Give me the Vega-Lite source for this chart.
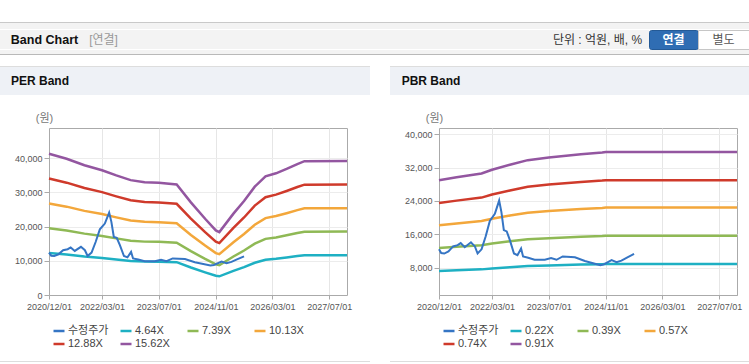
{
"$schema": "https://vega.github.io/schema/vega-lite/v6.json",
"padding": 0,
"background": "#ffffff",
"config": {"view": {"stroke": null}, "font": "Liberation Sans, Noto Sans CJK KR"},
"datasets": {
"price": [
{"d":"2020-12-01","s":"수정주가","v":12400},
{"d":"2020-12-20","s":"수정주가","v":11500},
{"d":"2021-01-15","s":"수정주가","v":11400},
{"d":"2021-02-20","s":"수정주가","v":11900},
{"d":"2021-04-01","s":"수정주가","v":13100},
{"d":"2021-05-10","s":"수정주가","v":13400},
{"d":"2021-06-05","s":"수정주가","v":13900},
{"d":"2021-07-10","s":"수정주가","v":12900},
{"d":"2021-09-01","s":"수정주가","v":14100},
{"d":"2021-10-05","s":"수정주가","v":13100},
{"d":"2021-10-28","s":"수정주가","v":11400},
{"d":"2021-12-01","s":"수정주가","v":12400},
{"d":"2022-01-05","s":"수정주가","v":15500},
{"d":"2022-02-10","s":"수정주가","v":19200},
{"d":"2022-03-25","s":"수정주가","v":20900},
{"d":"2022-05-01","s":"수정주가","v":24100},
{"d":"2022-05-20","s":"수정주가","v":21400},
{"d":"2022-06-10","s":"수정주가","v":17000},
{"d":"2022-07-05","s":"수정주가","v":16700},
{"d":"2022-08-01","s":"수정주가","v":14600},
{"d":"2022-09-05","s":"수정주가","v":11400},
{"d":"2022-10-05","s":"수정주가","v":11000},
{"d":"2022-11-05","s":"수정주가","v":12600},
{"d":"2022-11-22","s":"수정주가","v":10700},
{"d":"2023-01-05","s":"수정주가","v":10400},
{"d":"2023-03-01","s":"수정주가","v":9900},
{"d":"2023-05-28","s":"수정주가","v":9900},
{"d":"2023-07-20","s":"수정주가","v":10300},
{"d":"2023-09-05","s":"수정주가","v":9900},
{"d":"2023-10-28","s":"수정주가","v":10700},
{"d":"2024-02-10","s":"수정주가","v":10500},
{"d":"2024-05-05","s":"수정주가","v":9600},
{"d":"2024-09-15","s":"수정주가","v":8600},
{"d":"2024-10-15","s":"수정주가","v":8800},
{"d":"2024-12-20","s":"수정주가","v":9800},
{"d":"2025-02-01","s":"수정주가","v":9300},
{"d":"2025-03-15","s":"수정주가","v":9700},
{"d":"2025-05-01","s":"수정주가","v":10400},
{"d":"2025-07-01","s":"수정주가","v":11300}
],
"per": [
{"d":"2020-12-01","s":"4.64X","v":12270},{"d":"2020-12-01","s":"7.39X","v":19540},{"d":"2020-12-01","s":"10.13X","v":26780},{"d":"2020-12-01","s":"12.88X","v":34055},{"d":"2020-12-01","s":"15.62X","v":41300},
{"d":"2021-05-01","s":"4.64X","v":11838},{"d":"2021-05-01","s":"7.39X","v":18853},{"d":"2021-05-01","s":"10.13X","v":25844},{"d":"2021-05-01","s":"12.88X","v":32860},{"d":"2021-05-01","s":"15.62X","v":39850},
{"d":"2021-10-01","s":"4.64X","v":11273},{"d":"2021-10-01","s":"7.39X","v":17954},{"d":"2021-10-01","s":"10.13X","v":24612},{"d":"2021-10-01","s":"12.88X","v":31293},{"d":"2021-10-01","s":"15.62X","v":37950},
{"d":"2022-03-01","s":"4.64X","v":10843},{"d":"2022-03-01","s":"7.39X","v":17269},{"d":"2022-03-01","s":"10.13X","v":23671},{"d":"2022-03-01","s":"12.88X","v":30097},{"d":"2022-03-01","s":"15.62X","v":36500},
{"d":"2022-07-01","s":"4.64X","v":10397},{"d":"2022-07-01","s":"7.39X","v":16559},{"d":"2022-07-01","s":"10.13X","v":22699},{"d":"2022-07-01","s":"12.88X","v":28860},{"d":"2022-07-01","s":"15.62X","v":35000},
{"d":"2022-11-01","s":"4.64X","v":9981},{"d":"2022-11-01","s":"7.39X","v":15896},{"d":"2022-11-01","s":"10.13X","v":21791},{"d":"2022-11-01","s":"12.88X","v":27706},{"d":"2022-11-01","s":"15.62X","v":33600},
{"d":"2023-03-01","s":"4.64X","v":9803},{"d":"2023-03-01","s":"7.39X","v":15613},{"d":"2023-03-01","s":"10.13X","v":21401},{"d":"2023-03-01","s":"12.88X","v":27211},{"d":"2023-03-01","s":"15.62X","v":33000},
{"d":"2023-07-01","s":"4.64X","v":9758},{"d":"2023-07-01","s":"7.39X","v":15542},{"d":"2023-07-01","s":"10.13X","v":21304},{"d":"2023-07-01","s":"12.88X","v":27087},{"d":"2023-07-01","s":"15.62X","v":32850},
{"d":"2023-12-01","s":"4.64X","v":9610},{"d":"2023-12-01","s":"7.39X","v":15305},{"d":"2023-12-01","s":"10.13X","v":20980},{"d":"2023-12-01","s":"12.88X","v":26675},{"d":"2023-12-01","s":"15.62X","v":32350},
{"d":"2024-04-01","s":"4.64X","v":8050},{"d":"2024-04-01","s":"7.39X","v":12821},{"d":"2024-04-01","s":"10.13X","v":17575},{"d":"2024-04-01","s":"12.88X","v":22346},{"d":"2024-04-01","s":"15.62X","v":27100},
{"d":"2024-08-01","s":"4.64X","v":6624},{"d":"2024-08-01","s":"7.39X","v":10550},{"d":"2024-08-01","s":"10.13X","v":14462},{"d":"2024-08-01","s":"12.88X","v":18388},{"d":"2024-08-01","s":"15.62X","v":22300},
{"d":"2024-11-01","s":"4.64X","v":5614},{"d":"2024-11-01","s":"7.39X","v":8942},{"d":"2024-11-01","s":"10.13X","v":12257},{"d":"2024-11-01","s":"12.88X","v":15585},{"d":"2024-11-01","s":"15.62X","v":18900},
{"d":"2024-12-01","s":"4.64X","v":5466},{"d":"2024-12-01","s":"7.39X","v":8705},{"d":"2024-12-01","s":"10.13X","v":11933},{"d":"2024-12-01","s":"12.88X","v":15172},{"d":"2024-12-01","s":"15.62X","v":18400},
{"d":"2025-04-01","s":"4.64X","v":7070},{"d":"2025-04-01","s":"7.39X","v":11260},{"d":"2025-04-01","s":"10.13X","v":15435},{"d":"2025-04-01","s":"12.88X","v":19625},{"d":"2025-04-01","s":"15.62X","v":23800},
{"d":"2025-07-01","s":"4.64X","v":8169},{"d":"2025-07-01","s":"7.39X","v":13011},{"d":"2025-07-01","s":"10.13X","v":17835},{"d":"2025-07-01","s":"12.88X","v":22676},{"d":"2025-07-01","s":"15.62X","v":27500},
{"d":"2025-10-01","s":"4.64X","v":9417},{"d":"2025-10-01","s":"7.39X","v":14998},{"d":"2025-10-01","s":"10.13X","v":20558},{"d":"2025-10-01","s":"12.88X","v":26139},{"d":"2025-10-01","s":"15.62X","v":31700},
{"d":"2026-01-01","s":"4.64X","v":10308},{"d":"2026-01-01","s":"7.39X","v":16417},{"d":"2026-01-01","s":"10.13X","v":22504},{"d":"2026-01-01","s":"12.88X","v":28613},{"d":"2026-01-01","s":"15.62X","v":34700},
{"d":"2026-04-01","s":"4.64X","v":10575},{"d":"2026-04-01","s":"7.39X","v":16843},{"d":"2026-04-01","s":"10.13X","v":23088},{"d":"2026-04-01","s":"12.88X","v":29355},{"d":"2026-04-01","s":"15.62X","v":35600},
{"d":"2026-07-01","s":"4.64X","v":10962},{"d":"2026-07-01","s":"7.39X","v":17458},{"d":"2026-07-01","s":"10.13X","v":23931},{"d":"2026-07-01","s":"12.88X","v":30427},{"d":"2026-07-01","s":"15.62X","v":36900},
{"d":"2026-10-01","s":"4.64X","v":11377},{"d":"2026-10-01","s":"7.39X","v":18120},{"d":"2026-10-01","s":"10.13X","v":24839},{"d":"2026-10-01","s":"12.88X","v":31581},{"d":"2026-10-01","s":"15.62X","v":38300},
{"d":"2026-12-01","s":"4.64X","v":11630},{"d":"2026-12-01","s":"7.39X","v":18522},{"d":"2026-12-01","s":"10.13X","v":25390},{"d":"2026-12-01","s":"12.88X","v":32282},{"d":"2026-12-01","s":"15.62X","v":39150},
{"d":"2027-12-01","s":"4.64X","v":11636},{"d":"2027-12-01","s":"7.39X","v":18600},{"d":"2027-12-01","s":"10.13X","v":25403},{"d":"2027-12-01","s":"12.88X","v":32299},{"d":"2027-12-01","s":"15.62X","v":39170}
],
"pbr": [
{"d":"2020-12-01","s":"0.22X","v":7201},{"d":"2020-12-01","s":"0.39X","v":12702},{"d":"2020-12-01","s":"0.57X","v":18183},{"d":"2020-12-01","s":"0.74X","v":23519},{"d":"2020-12-01","s":"0.91X","v":29000},
{"d":"2021-05-01","s":"0.22X","v":7375},{"d":"2021-05-01","s":"0.39X","v":13009},{"d":"2021-05-01","s":"0.57X","v":18622},{"d":"2021-05-01","s":"0.74X","v":24087},{"d":"2021-05-01","s":"0.91X","v":29700},
{"d":"2021-12-01","s":"0.22X","v":7598},{"d":"2021-12-01","s":"0.39X","v":13403},{"d":"2021-12-01","s":"0.57X","v":19186},{"d":"2021-12-01","s":"0.74X","v":24817},{"d":"2021-12-01","s":"0.91X","v":30600},
{"d":"2022-03-01","s":"0.22X","v":7821},{"d":"2022-03-01","s":"0.39X","v":13797},{"d":"2022-03-01","s":"0.57X","v":19751},{"d":"2022-03-01","s":"0.74X","v":25547},{"d":"2022-03-01","s":"0.91X","v":31500},
{"d":"2022-08-01","s":"0.22X","v":8119},{"d":"2022-08-01","s":"0.39X","v":14323},{"d":"2022-08-01","s":"0.57X","v":20503},{"d":"2022-08-01","s":"0.74X","v":26520},{"d":"2022-08-01","s":"0.91X","v":32700},
{"d":"2023-01-01","s":"0.22X","v":8393},{"d":"2023-01-01","s":"0.39X","v":14804},{"d":"2023-01-01","s":"0.57X","v":21193},{"d":"2023-01-01","s":"0.74X","v":27412},{"d":"2023-01-01","s":"0.91X","v":33800},
{"d":"2023-07-01","s":"0.22X","v":8552},{"d":"2023-07-01","s":"0.39X","v":15085},{"d":"2023-07-01","s":"0.57X","v":21594},{"d":"2023-07-01","s":"0.74X","v":27931},{"d":"2023-07-01","s":"0.91X","v":34440},
{"d":"2024-04-01","s":"0.22X","v":8748},{"d":"2024-04-01","s":"0.39X","v":15431},{"d":"2024-04-01","s":"0.57X","v":22089},{"d":"2024-04-01","s":"0.74X","v":28572},{"d":"2024-04-01","s":"0.91X","v":35230},
{"d":"2024-10-01","s":"0.22X","v":8847},{"d":"2024-10-01","s":"0.39X","v":15606},{"d":"2024-10-01","s":"0.57X","v":22340},{"d":"2024-10-01","s":"0.74X","v":28896},{"d":"2024-10-01","s":"0.91X","v":35630},
{"d":"2024-11-01","s":"0.22X","v":8879},{"d":"2024-11-01","s":"0.39X","v":15663},{"d":"2024-11-01","s":"0.57X","v":22422},{"d":"2024-11-01","s":"0.74X","v":29001},{"d":"2024-11-01","s":"0.91X","v":35760},
{"d":"2027-12-01","s":"0.22X","v":8879},{"d":"2027-12-01","s":"0.39X","v":15663},{"d":"2027-12-01","s":"0.57X","v":22422},{"d":"2027-12-01","s":"0.74X","v":29001},{"d":"2027-12-01","s":"0.91X","v":35760}
]
},
"spacing": 0,
"vconcat": [
{"width":749,"height":22,"data":{"values":[]},"mark":"point"},
{"width":749,"height":1,"data":{"values":[]},"mark":"point","view":{"fill":"#c9c9c9","stroke":null}},
{"width":749,"height":6,"data":{"values":[]},"mark":"point","view":{"fill":"#f3f3f3","stroke":null}},
{"hconcat":[
 {"width":89,"height":19,"data":{"values":[{"t":"Band Chart"}]},"mark":{"type":"text","fontSize":12.5,"fontWeight":"bold","color":"#111111"},"encoding":{"text":{"field":"t"}},"view":{"fill":"#f3f3f3","stroke":null}},
 {"width":29,"height":19,"data":{"values":[{"t":"[연결]"}]},"mark":{"type":"text","fontSize":12,"color":"#999999"},"encoding":{"text":{"field":"t"}},"view":{"fill":"#f3f3f3","stroke":null}},
 {"width":428,"height":19,"data":{"values":[]},"mark":"point","view":{"fill":"#f3f3f3","stroke":null}},
 {"width":103,"height":19,"data":{"values":[{"t":"단위 : 억원, 배, %"}]},"mark":{"type":"text","fontSize":12,"color":"#333333"},"encoding":{"text":{"field":"t"}},"view":{"fill":"#f3f3f3","stroke":null}},
 {"width":49,"height":19,"data":{"values":[{"t":"연결"}]},"mark":{"type":"text","fontSize":12,"fontWeight":"bold","color":"#ffffff"},"encoding":{"text":{"field":"t"}},"view":{"fill":"#2f6db3","stroke":"#245a96","cornerRadius":2}},
 {"width":51,"height":19,"data":{"values":[{"t":"별도"}]},"mark":{"type":"text","fontSize":12,"color":"#555555"},"encoding":{"text":{"field":"t"}},"view":{"fill":"#ffffff","stroke":"#c6c6c6"}}
],"spacing":0,"bounds":"flush"},
{"width":749,"height":4,"data":{"values":[]},"mark":"point","view":{"fill":"#f3f3f3","stroke":null}},
{"width":749,"height":1,"data":{"values":[]},"mark":"point","view":{"fill":"#b9b9b9","stroke":null}},
{"width":749,"height":11,"data":{"values":[]},"mark":"point"},
{"hconcat":[
 {"width":370,"height":1,"data":{"values":[]},"mark":"point","view":{"fill":"#dddddd","stroke":null}},
 {"width":20,"height":1,"data":{"values":[]},"mark":"point"},
 {"width":359,"height":1,"data":{"values":[]},"mark":"point","view":{"fill":"#dddddd","stroke":null}}
],"spacing":0,"bounds":"flush"},
{"hconcat":[
 {"width":80,"height":28,"data":{"values":[{"t":"PER Band"}]},"mark":{"type":"text","fontSize":12,"fontWeight":"bold","color":"#111111"},"encoding":{"text":{"field":"t"}},"view":{"fill":"#eef1f6","stroke":null}},
 {"width":290,"height":28,"data":{"values":[]},"mark":"point","view":{"fill":"#eef1f6","stroke":null}},
 {"width":20,"height":28,"data":{"values":[]},"mark":"point"},
 {"width":82,"height":28,"data":{"values":[{"t":"PBR Band"}]},"mark":{"type":"text","fontSize":12,"fontWeight":"bold","color":"#111111"},"encoding":{"text":{"field":"t"}},"view":{"fill":"#eef1f6","stroke":null}},
 {"width":277,"height":28,"data":{"values":[]},"mark":"point","view":{"fill":"#eef1f6","stroke":null}}
],"spacing":0,"bounds":"flush"},
{"width":749,"height":16,"data":{"values":[]},"mark":"point"},
{"hconcat":[
 {"width":49,"height":167,"data":{"values":[]},"mark":"point"},
 {"width":298,"height":167,
  "view":{"stroke":"#aaaaaa"},
  "encoding":{
    "x":{"field":"d","type":"temporal","scale":{"type":"utc","domain":[{"year":2020,"month":12,"date":1,"utc":true},{"year":2027,"month":12,"date":1,"utc":true}]},
         "axis":{"title":null,"values":[{"year":2020,"month":12,"date":1,"utc":true},{"year":2022,"month":3,"date":1,"utc":true},{"year":2023,"month":7,"date":1,"utc":true},{"year":2024,"month":11,"date":1,"utc":true},{"year":2026,"month":3,"date":1,"utc":true},{"year":2027,"month":7,"date":1,"utc":true}],
                 "format":"%Y/%m/%d","grid":true,"gridColor":"#e6e6e6","domainColor":"#aaaaaa","tickColor":"#aaaaaa","tickSize":4,"labelFontSize":9,"labelColor":"#555555","labelPadding":3,"labelFlush":false,"labelOverlap":false}},
    "y":{"field":"v","type":"quantitative","scale":{"domain":[0,48850],"nice":false,"zero":false},
         "axis":{"values":[0,10000,20000,30000,40000],"format":",.0f","title":"(원)","titleAngle":0,"titleX":-5,"titleY":-10,"titleAlign":"center","titleBaseline":"middle","titleFontWeight":"normal","titleFontSize":11,"titleColor":"#777777","grid":true,"gridColor":"#ececec","domainColor":"#aaaaaa","tickColor":"#aaaaaa","tickSize":5,"labelPadding":2,"labelFontSize":9,"labelColor":"#555555"}},
    "color":{"field":"s","type":"nominal",
             "scale":{"domain":["수정주가","4.64X","7.39X","10.13X","12.88X","15.62X"],"range":["#3575c4","#1eb0c3","#8fb955","#f3a73b","#cf3a2b","#9356a0"]},
             "legend":{"title":null,"orient":"none","direction":"horizontal","legendX":3,"legendY":196,"columns":4,"symbolType":"stroke","symbolSize":121,"symbolStrokeWidth":2.5,"labelFontSize":11,"labelColor":"#444444","gridAlign":"all","columnPadding":6,"rowPadding":1,"labelOffset":2}}
  },
  "layer":[
    {"data":{"name":"per"},"mark":{"type":"line","strokeWidth":2.5}},
    {"data":{"name":"price"},"mark":{"type":"line","strokeWidth":2}}
  ]},
 {"width":92,"height":167,"data":{"values":[]},"mark":"point"},
 {"width":298,"height":167,
  "view":{"stroke":"#aaaaaa"},
  "encoding":{
    "x":{"field":"d","type":"temporal","scale":{"type":"utc","domain":[{"year":2020,"month":12,"date":1,"utc":true},{"year":2027,"month":12,"date":1,"utc":true}]},
         "axis":{"title":null,"values":[{"year":2020,"month":12,"date":1,"utc":true},{"year":2022,"month":3,"date":1,"utc":true},{"year":2023,"month":7,"date":1,"utc":true},{"year":2024,"month":11,"date":1,"utc":true},{"year":2026,"month":3,"date":1,"utc":true},{"year":2027,"month":7,"date":1,"utc":true}],
                 "format":"%Y/%m/%d","grid":true,"gridColor":"#e6e6e6","domainColor":"#aaaaaa","tickColor":"#aaaaaa","tickSize":4,"labelFontSize":9,"labelColor":"#555555","labelPadding":3,"labelFlush":false,"labelOverlap":false}},
    "y":{"field":"v","type":"quantitative","scale":{"domain":[1450,41510],"nice":false,"zero":false},
         "axis":{"values":[8000,16000,24000,32000,40000],"format":",.0f","title":"(원)","titleAngle":0,"titleX":-5,"titleY":-10,"titleAlign":"center","titleBaseline":"middle","titleFontWeight":"normal","titleFontSize":11,"titleColor":"#777777","grid":true,"gridColor":"#ececec","domainColor":"#aaaaaa","tickColor":"#aaaaaa","tickSize":5,"labelPadding":2,"labelFontSize":9,"labelColor":"#555555"}},
    "color":{"field":"s","type":"nominal",
             "scale":{"domain":["수정주가","0.22X","0.39X","0.57X","0.74X","0.91X"],"range":["#3575c4","#1eb0c3","#8fb955","#f3a73b","#cf3a2b","#9356a0"]},
             "legend":{"title":null,"orient":"none","direction":"horizontal","legendX":3,"legendY":196,"columns":4,"symbolType":"stroke","symbolSize":121,"symbolStrokeWidth":2.5,"labelFontSize":11,"labelColor":"#444444","gridAlign":"all","columnPadding":6,"rowPadding":1,"labelOffset":2}}
  },
  "layer":[
    {"data":{"name":"pbr"},"mark":{"type":"line","strokeWidth":2.5}},
    {"data":{"name":"price"},"mark":{"type":"line","strokeWidth":2}}
  ]},
 {"width":12,"height":167,"data":{"values":[]},"mark":"point"}
],"spacing":0,"bounds":"flush",
 "resolve":{"scale":{"color":"independent","x":"independent","y":"independent"},"legend":{"color":"independent"}}},
{"width":749,"height":11,"data":{"values":[]},"mark":"point"},
{"hconcat":[
 {"width":370,"height":1,"data":{"values":[]},"mark":"point","view":{"fill":"#dddddd","stroke":null}},
 {"width":20,"height":1,"data":{"values":[]},"mark":"point"},
 {"width":359,"height":1,"data":{"values":[]},"mark":"point","view":{"fill":"#dddddd","stroke":null}}
],"spacing":0,"bounds":"flush"}
]
}
